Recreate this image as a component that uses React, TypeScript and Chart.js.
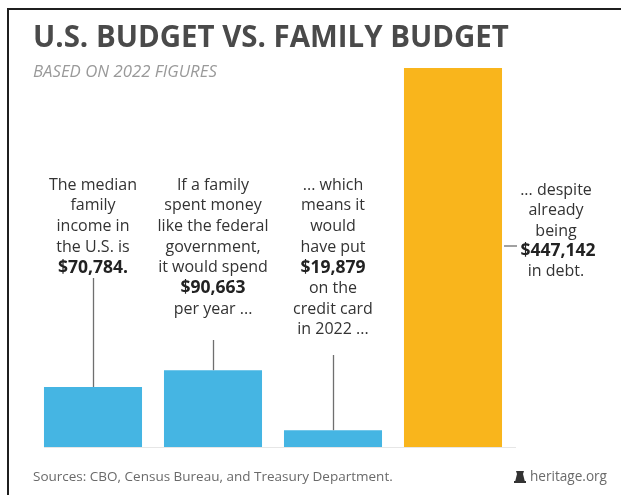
import React, { useEffect, useRef } from "react";
import { Chart, registerables } from "chart.js";

Chart.register(...registerables);

// ---- Data ----
const categories = [
  "Median family income",
  "Family spending like the federal government",
  "Borrowed on the credit card",
  "Existing debt",
];
const values = [70784, 90663, 19879, 447142];
const barColors = ["#45b5e3", "#45b5e3", "#45b5e3", "#f9b51c"];
const titleText = "U.S. BUDGET VS. FAMILY BUDGET";
const subtitleText = "BASED ON 2022 FIGURES";
const sourceText = "Sources: CBO, Census Bureau, and Treasury Department.";
const brandText = "heritage.org";
const noteLines = [
  ["The median", "family", "income in", "the U.S. is", "$70,784."],
  ["If a family", "spent money", "like the federal", "government,", "it would spend", "$90,663", "per year ..."],
  ["... which", "means it", "would", "have put", "$19,879", "on the", "credit card", "in 2022 ..."],
  ["... despite", "already", "being", "$447,142", "in debt."],
];

// ---- Layout (not data) ----
const W = 621;
const H = 495;
const FONT = "'Open Sans', 'DejaVu Sans', sans-serif";
const LINE_H = 20.7;
const NOTE_TOP = 185;
const connectorStart = [278, 340, 355];

function fitFont(ctx: CanvasRenderingContext2D, text: string, style: string, target: number) {
  let size = 20;
  ctx.font = `${style} ${size}px ${FONT}`;
  const w = ctx.measureText(text).width;
  size = (size * target) / w;
  return `${style} ${size.toFixed(2)}px ${FONT}`;
}

const decorPlugin = {
  id: "decor",
  beforeDraw(chart: any) {
    const ctx = chart.ctx as CanvasRenderingContext2D;
    ctx.save();
    ctx.fillStyle = "#ffffff";
    ctx.fillRect(0, 0, W, H);
    // frame (top and left)
    ctx.fillStyle = "#1f1f1f";
    ctx.fillRect(7, 8, W - 7, 2);
    ctx.fillRect(7, 8, 2, H - 8);
    // title
    ctx.textBaseline = "middle";
    ctx.textAlign = "left";
    ctx.fillStyle = "#4a4a4a";
    ctx.font = fitFont(ctx, titleText, "bold", 476);
    ctx.fillText(titleText, 33, 39);
    // subtitle
    ctx.fillStyle = "#9a9a9a";
    ctx.font = fitFont(ctx, subtitleText, "italic", 184);
    ctx.fillText(subtitleText, 33, 72);
    // footer
    ctx.fillStyle = "#6a6a6a";
    ctx.font = fitFont(ctx, sourceText, "normal", 360);
    ctx.fillText(sourceText, 33, 477);
    ctx.font = fitFont(ctx, brandText, "normal", 77);
    ctx.fillText(brandText, 530, 477);
    // little bell icon
    ctx.fillStyle = "#333333";
    ctx.beginPath();
    ctx.moveTo(516, 471);
    ctx.lineTo(524, 471);
    ctx.lineTo(523, 474);
    ctx.lineTo(525, 482);
    ctx.lineTo(515, 482);
    ctx.lineTo(517, 474);
    ctx.closePath();
    ctx.fill();
    ctx.fillRect(514, 481, 12, 2);
    // faint baseline
    const yb = chart.scales.y.getPixelForValue(0);
    ctx.strokeStyle = "#e6e6e6";
    ctx.lineWidth = 1;
    ctx.beginPath();
    ctx.moveTo(44, yb + 0.5);
    ctx.lineTo(516, yb + 0.5);
    ctx.stroke();
    ctx.restore();
  },
  afterDatasetsDraw(chart: any) {
    const ctx = chart.ctx as CanvasRenderingContext2D;
    const meta = chart.getDatasetMeta(0);
    ctx.save();
    ctx.textBaseline = "middle";
    ctx.textAlign = "center";
    noteLines.forEach((lines, i) => {
      const bar = meta.data[i];
      const side = i === noteLines.length - 1;
      const cx = side ? 556 : bar.x;
      const top = side ? 190 : NOTE_TOP;
      lines.forEach((ln, j) => {
        const bold = ln.startsWith("$");
        ctx.font = `${bold ? "bold 17.5px" : "16px"} ${FONT}`;
        ctx.fillStyle = bold ? "#222222" : "#333333";
        const y = top + j * LINE_H - (side && j >= 3 ? 1 : 0);
        ctx.fillText(ln, cx + (side && bold ? 2 : 0), y);
      });
      ctx.strokeStyle = "#6f6f6f";
      ctx.lineWidth = 1.3;
      ctx.beginPath();
      if (side) {
        const right = bar.x + bar.width / 2;
        ctx.moveTo(right + 2, 246);
        ctx.lineTo(517, 246);
      } else {
        ctx.moveTo(Math.round(bar.x) + 0.5, connectorStart[i]);
        ctx.lineTo(Math.round(bar.x) + 0.5, bar.y);
      }
      ctx.stroke();
    });
    ctx.restore();
  },
};

export default function App() {
  const ref = useRef<HTMLCanvasElement | null>(null);
  useEffect(() => {
    document.body.style.margin = "0";
    const canvas = ref.current;
    if (!canvas) return;
    const chart = new Chart(canvas, {
      type: "bar",
      data: {
        labels: categories,
        datasets: [
          {
            data: values,
            backgroundColor: barColors,
            borderWidth: 0,
            categoryPercentage: 1,
            barPercentage: 0.817,
          },
        ],
      },
      options: {
        responsive: false,
        animation: false,
        devicePixelRatio: 1,
        layout: { padding: { left: 33, right: 108, top: 68, bottom: 48 } },
        plugins: { legend: { display: false }, tooltip: { enabled: false } },
        scales: {
          x: { display: false },
          y: { display: false, min: 0, max: 447142 },
        },
      },
      plugins: [decorPlugin],
    });
    return () => chart.destroy();
  }, []);
  return (
    <div style={{ width: W, height: H }}>
      <canvas ref={ref} width={W} height={H} style={{ display: "block" }} />
    </div>
  );
}
